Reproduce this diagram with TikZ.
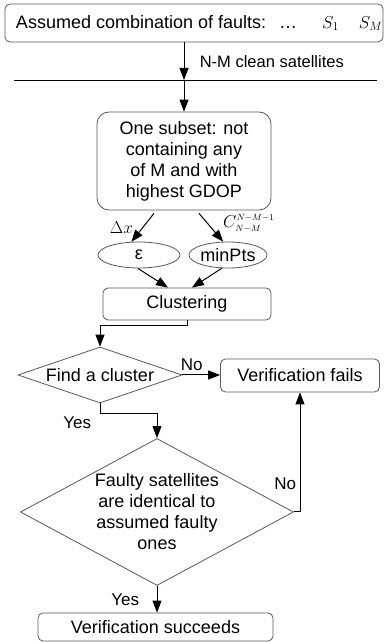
\documentclass[tikz,border=0pt]{standalone}
\usepackage{fontspec}
\setmainfont{Liberation Sans}
\usetikzlibrary{arrows.meta,shapes.geometric,calc}

\begin{document}
\begin{tikzpicture}[x=1pt, y=1pt,
    font=\fontsize{18}{21}\selectfont,
    box/.style={draw=black!65, line width=0.8pt, rounded corners=5pt, align=center, inner sep=0pt},
    oval/.style={draw=black!65, line width=0.8pt, ellipse, inner sep=0pt, minimum width=#1, minimum height=26pt},
    test/.style={draw=black!65, line width=0.8pt, diamond, align=center, inner sep=0pt},
    flow/.style={-{Triangle[length=12pt,width=9pt]}, line width=1pt},
    lbl/.style={font=\fontsize{17}{20}\selectfont}]
  \useasboundingbox (0,0) rectangle (385,642);

  \node[box, minimum width=378pt, minimum height=38pt] (faults) at (194,619)
    {\makebox[356pt][l]{Assumed combination of faults:\hspace{13pt}…\hspace{25pt}$S_1$\hspace{20pt}$S_M$}};
  \coordinate (cutL) at (14,562);
  \coordinate (cutR) at (377,562);
  \draw[line width=0.9pt] (cutL) -- (cutR);

  \node[box, rounded corners=12pt, minimum width=174pt, minimum height=98pt] (subset) at (184,481)
    {One subset: not\\containing any\\of M and with\\highest GDOP};
  \node[oval=82pt] (eps) at (139,387) {ε};
  \node[oval=78pt] (minpts) at (228,387) {minPts};
  \node[box, minimum width=168pt, minimum height=32pt] (clust) at (187,338) {Clustering};
  \node[test, aspect=2.93, minimum width=164pt, minimum height=56pt] (find) at (100,267) {Find a cluster};
  \node[box, minimum width=159pt, minimum height=33pt] (fails) at (300,266.5) {Verification fails};
  \node[test, aspect=1.857, inner xsep=-6pt, minimum width=273pt, minimum height=147pt] (ident) at (157,130)
    {Faulty satellites\\are identical to\\assumed faulty\\ones};
  \node[box, minimum width=235pt, minimum height=28pt] (succ) at (155.5,15) {Verification succeeds};

  \draw[flow] (faults.south -| subset.north) -- (subset.north |- cutL)
    node[midway, right=12pt, lbl, font=\fontsize{16.5}{19}\selectfont] {N-M clean satellites};
  \draw[flow] (subset.north |- cutL) -- (subset.north);
  \draw[flow] ($(subset.south)+(-30,-3)$) -- (eps.120) node[midway, left=6pt] {$\Delta x$};
  \draw[flow] ($(subset.south)+(15,-3)$) -- (minpts.110);
  \node[anchor=west, inner sep=0pt] (combo) at ($(minpts.north)+(-5,18)$)
    {$C_{\scriptscriptstyle N-M}^{\scriptscriptstyle N-M-1}$};
  \draw[flow] (eps.-95) -- ($(clust.north)+(-19,0)$);
  \draw[flow] (minpts.-115) -- ($(clust.north)+(5,0)$);
  \draw[flow] (clust.south) -- ++(0,-5) -| (find.north);
  \draw[flow] (find.east) -- (find.east -| fails.west) node[pos=0.25, above, lbl] {No};
  \draw[flow] (find.south) -- ++(0,-10) node[below left, xshift=-5pt, lbl] {Yes} -| (ident.north);
  \draw[flow] (ident.east) -| (fails.south) node[pos=0.62, left, lbl] {No};
  \draw[flow] (ident.south) -- (ident.south |- succ.north) node[midway, left=14pt, lbl] {Yes};
\end{tikzpicture}
\end{document}
